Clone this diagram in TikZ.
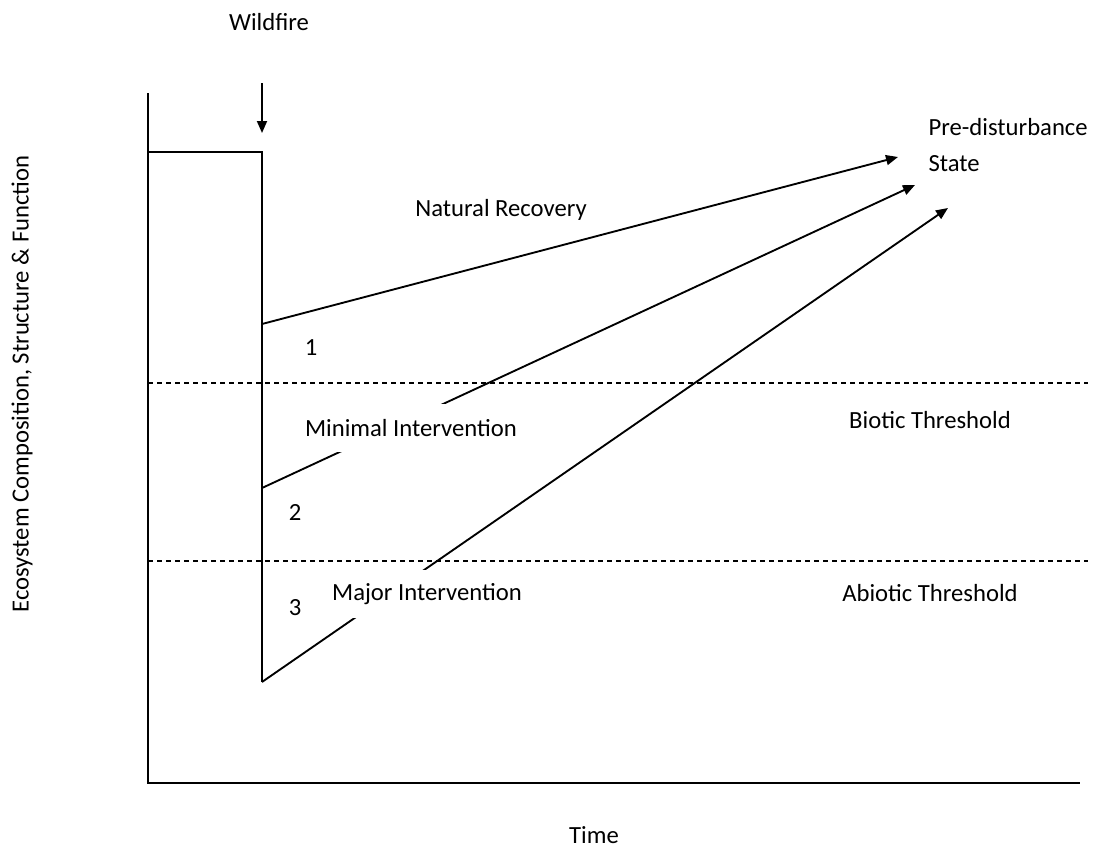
\documentclass[tikz,border=0pt]{standalone}
\usepackage{fontspec}
\setmainfont{Carlito}
\usepackage{tikz}
\usetikzlibrary{positioning,arrows.meta}

\tikzset{
  lbl/.style={font=\fontsize{18.5}{27}\selectfont, inner sep=1pt},
  boxlbl/.style={lbl, fill=white, minimum height=36.5pt},
  path/.style={line width=1.4pt},
  thresh/.style={line width=1pt, dash pattern=on 3.75pt off 3pt},
  tip/.style={-{Triangle[length=9pt,width=7.5pt]}}
}

\begin{document}
\begin{tikzpicture}[x=0.75pt,y=-0.75pt]
\useasboundingbox (0,0) rectangle (1097,850);
% axes
\coordinate (ytop) at (148,93);
\coordinate (orig) at (148,783);
\coordinate (xend) at (1080,783);
\draw[line width=1.4pt] (ytop) -- (orig) -- (xend);
% disturbance
\coordinate (pre) at (148,152);
\coordinate (fire) at (262,152);
\coordinate (low) at (262,682);
\draw[path] (pre) -- (fire) -- (low);
\node[lbl] (wildfire) at (269,22) {Wildfire};
\coordinate (firetop) at (262,83);
\coordinate (firebot) at (262,133);
\draw[path,tip] (firetop) -- (firebot);
% thresholds
\coordinate (bio0) at (148,383);
\coordinate (bio1) at (1088,383);
\coordinate (abio0) at (148,561);
\coordinate (abio1) at (1088,561);
\draw[thresh] (bio0) -- (bio1);
\draw[thresh] (abio0) -- (abio1);
% recovery paths
\coordinate (s1) at (262,324);
\coordinate (s2) at (262,488);
\coordinate (e1) at (898,157);
\coordinate (e2) at (915,185);
\coordinate (e3) at (948,208);
\draw[path,tip] (s1) -- (e1);
\draw[path,tip] (s2) -- (e2);
\draw[path,tip] (low) -- (e3);
% labels
\node[lbl] (natural) at (501,210) {Natural Recovery};
\node[boxlbl] (minimal) at (411,428) {Minimal Intervention};
\node[boxlbl] (major) at (427,594) {Major Intervention};
\node[lbl] (one) at (311,348) {1};
\node[lbl] (two) at (295,512) {2};
\node[lbl] (three) at (295,608) {3};
\node[lbl] (biotic) at (930,420) {Biotic Threshold};
\node[lbl] (abiotic) at (930,593) {Abiotic Threshold};
\node[lbl,anchor=west,align=left] (state) at (927,145) {Pre-disturbance\\State};
\node[lbl,inner sep=0pt] (time) at (594,835) {Time};
\node[lbl,rotate=90] (ylabel) at (22,384) {Ecosystem Composition, Structure \& Function};
\end{tikzpicture}
\end{document}
